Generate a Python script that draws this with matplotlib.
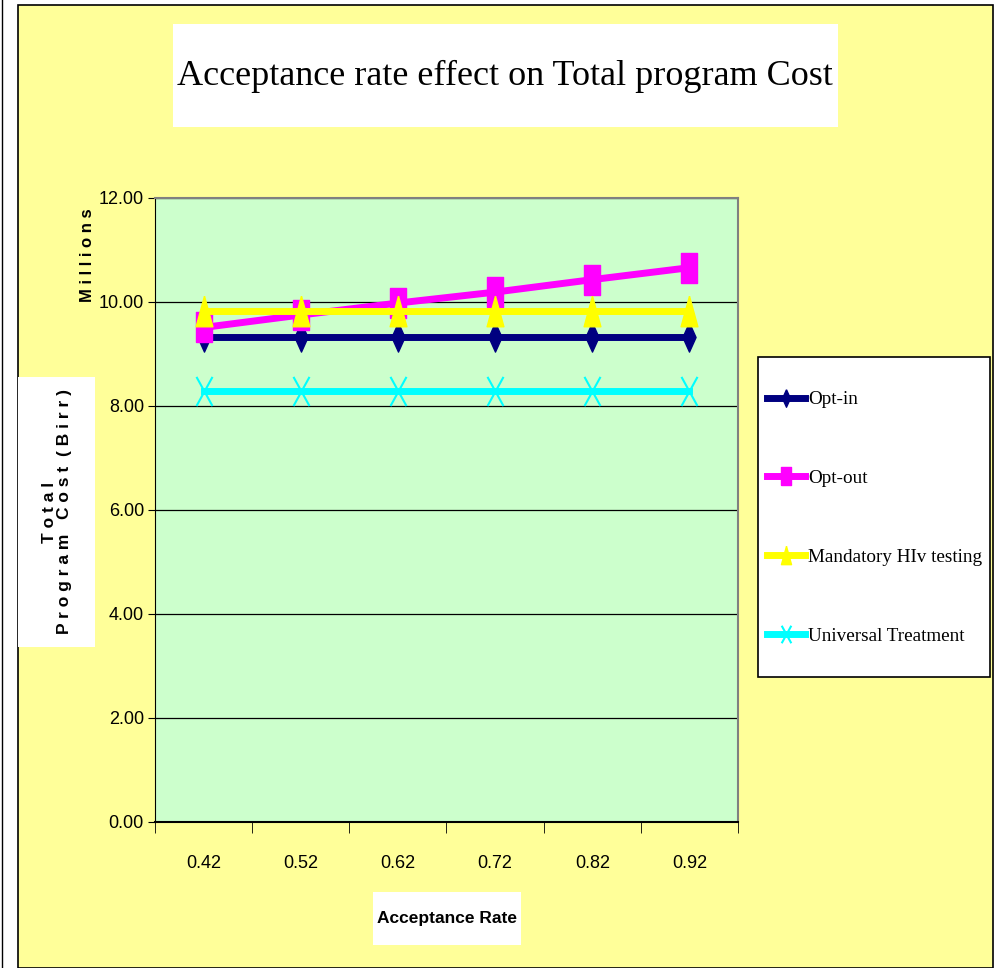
import matplotlib.pyplot as plt
import matplotlib.patches as mpatches
from matplotlib.path import Path
from matplotlib.ticker import FixedLocator, NullFormatter

# data (millions of Birr)
rates = ["0.42", "0.52", "0.62", "0.72", "0.82", "0.92"]
opt_in = [9.32, 9.32, 9.32, 9.32, 9.32, 9.32]
opt_out = [9.51, 9.75, 9.98, 10.19, 10.43, 10.66]
mandatory = [9.82, 9.82, 9.82, 9.82, 9.82, 9.82]
universal = [8.29, 8.29, 8.29, 8.29, 8.29, 8.29]

W, H = 998, 968
fig = plt.figure(figsize=(W / 100, H / 100), dpi=100, facecolor="white")

def fx(px):
    return px / W

def fy(py):
    return 1 - py / H

def box(x0, y0, x1, y1, fc, ec="none", lw=0, z=-0.5):
    # pixel box (top-left origin) drawn in figure coords
    fig.patches.append(mpatches.Rectangle((fx(x0), fy(y1)), fx(x1) - fx(x0), fy(y0) - fy(y1),
                                          transform=fig.transFigure, facecolor=fc,
                                          edgecolor=ec, linewidth=lw, zorder=z))

# markers in the original are stretched vertically
m_diamond = [(0, 1), (0.45, 0), (0, -1), (-0.45, 0), (0, 1)]
m_rect = [(-0.55, -1), (0.55, -1), (0.55, 1), (-0.55, 1), (-0.55, -1)]
m_tri = [(0, 1), (0.55, -1), (-0.55, -1), (0, 1)]
m_x = Path([(-0.55, -1), (0.55, 1), (-0.55, 1), (0.55, -1)],
           [Path.MOVETO, Path.LINETO, Path.MOVETO, Path.LINETO])

# yellow chart area with black border
box(18, 5, 993, 968, "#FFFF99", "black", 1.2, z=-2)
fig.lines.append(plt.Line2D([fx(2), fx(2)], [0, 1], transform=fig.transFigure,
                            color="black", linewidth=1))

# title box
box(173, 24, 838, 127, "white", z=-1)
fig.text(fx(505), fy(76), "Acceptance rate effect on Total program Cost",
         family="Liberation Serif", fontsize=26, ha="center", va="center")

ax = fig.add_axes([fx(155), fy(822), fx(738) - fx(155), fy(198) - fy(822)])
ax.set_facecolor("#CCFFCC")

x = range(len(rates))
ax.plot(x, opt_in, color="#000080", lw=5, marker=m_diamond, ms=21, label="Opt-in", zorder=3)
ax.plot(x, opt_out, color="#FF00FF", lw=5, marker=m_rect, ms=21, label="Opt-out", zorder=4)
ax.plot(x, mandatory, color="#FFFF00", lw=5, marker=m_tri, ms=22, label="Mandatory HIv testing", zorder=5)
ax.plot(x, universal, color="#00FFFF", lw=5, marker=m_x, ms=21, mew=1.5, mfc="none",
        label="Universal Treatment", zorder=3)

ax.set_xlim(-0.5, 5.5)
ax.set_ylim(0, 12)
ax.set_yticks([0, 2, 4, 6, 8, 10, 12])
ax.set_yticklabels(["%.2f" % v for v in [0, 2, 4, 6, 8, 10, 12]])
ax.yaxis.grid(True, color="black", linewidth=0.9)
ax.set_axisbelow(True)

ax.set_xticks(list(x))
ax.set_xticklabels(rates)
ax.xaxis.set_minor_locator(FixedLocator([i - 0.5 for i in range(7)]))
ax.xaxis.set_minor_formatter(NullFormatter())
ax.tick_params(axis="x", which="major", length=0, pad=24)
ax.tick_params(axis="x", which="minor", length=8, direction="out", color="black")
ax.tick_params(axis="y", length=5, direction="out", pad=3)
for lab in ax.get_xticklabels() + ax.get_yticklabels():
    lab.set_family("Liberation Sans")
    lab.set_fontsize(13)

for side in ["top", "right"]:
    ax.spines[side].set_color("#808080")
    ax.spines[side].set_linewidth(1.5)
ax.spines["left"].set_color("black")
ax.spines["bottom"].set_color("black")
ax.spines["bottom"].set_linewidth(1.5)

# y label box
box(18, 377, 95, 647, "white", z=-1)
fig.text(fx(57), fy(512), "T o t a l\nP r o g r a m   C o s t  ( B i r r )",
         rotation=90, ha="center", va="center", multialignment="center",
         family="Liberation Sans", fontsize=12.5, fontweight="bold", linespacing=1.0)
fig.text(fx(88), fy(255), "M i l l i o n s", rotation=90, ha="center", va="center",
         family="Liberation Sans", fontsize=12, fontweight="bold")

# x label box
box(373, 892, 521, 945, "white", z=-1)
fig.text(fx(447), fy(918), "Acceptance Rate", ha="center", va="center",
         family="Liberation Sans", fontsize=12.5, fontweight="bold")

# legend frame drawn separately, legend itself without frame
box(758, 357, 990, 677, "white", "black", 1.2, z=-1)
leg = fig.legend(loc="upper left", bbox_to_anchor=(fx(767), fy(391)),
                 bbox_transform=fig.transFigure, frameon=False,
                 prop={"family": "Liberation Serif", "size": 13.8},
                 handlelength=2.0, handletextpad=0.15, labelspacing=3.2, borderpad=0,
                 borderaxespad=0, markerscale=0.6)

fig.savefig("out.png", dpi=100, facecolor="white")
